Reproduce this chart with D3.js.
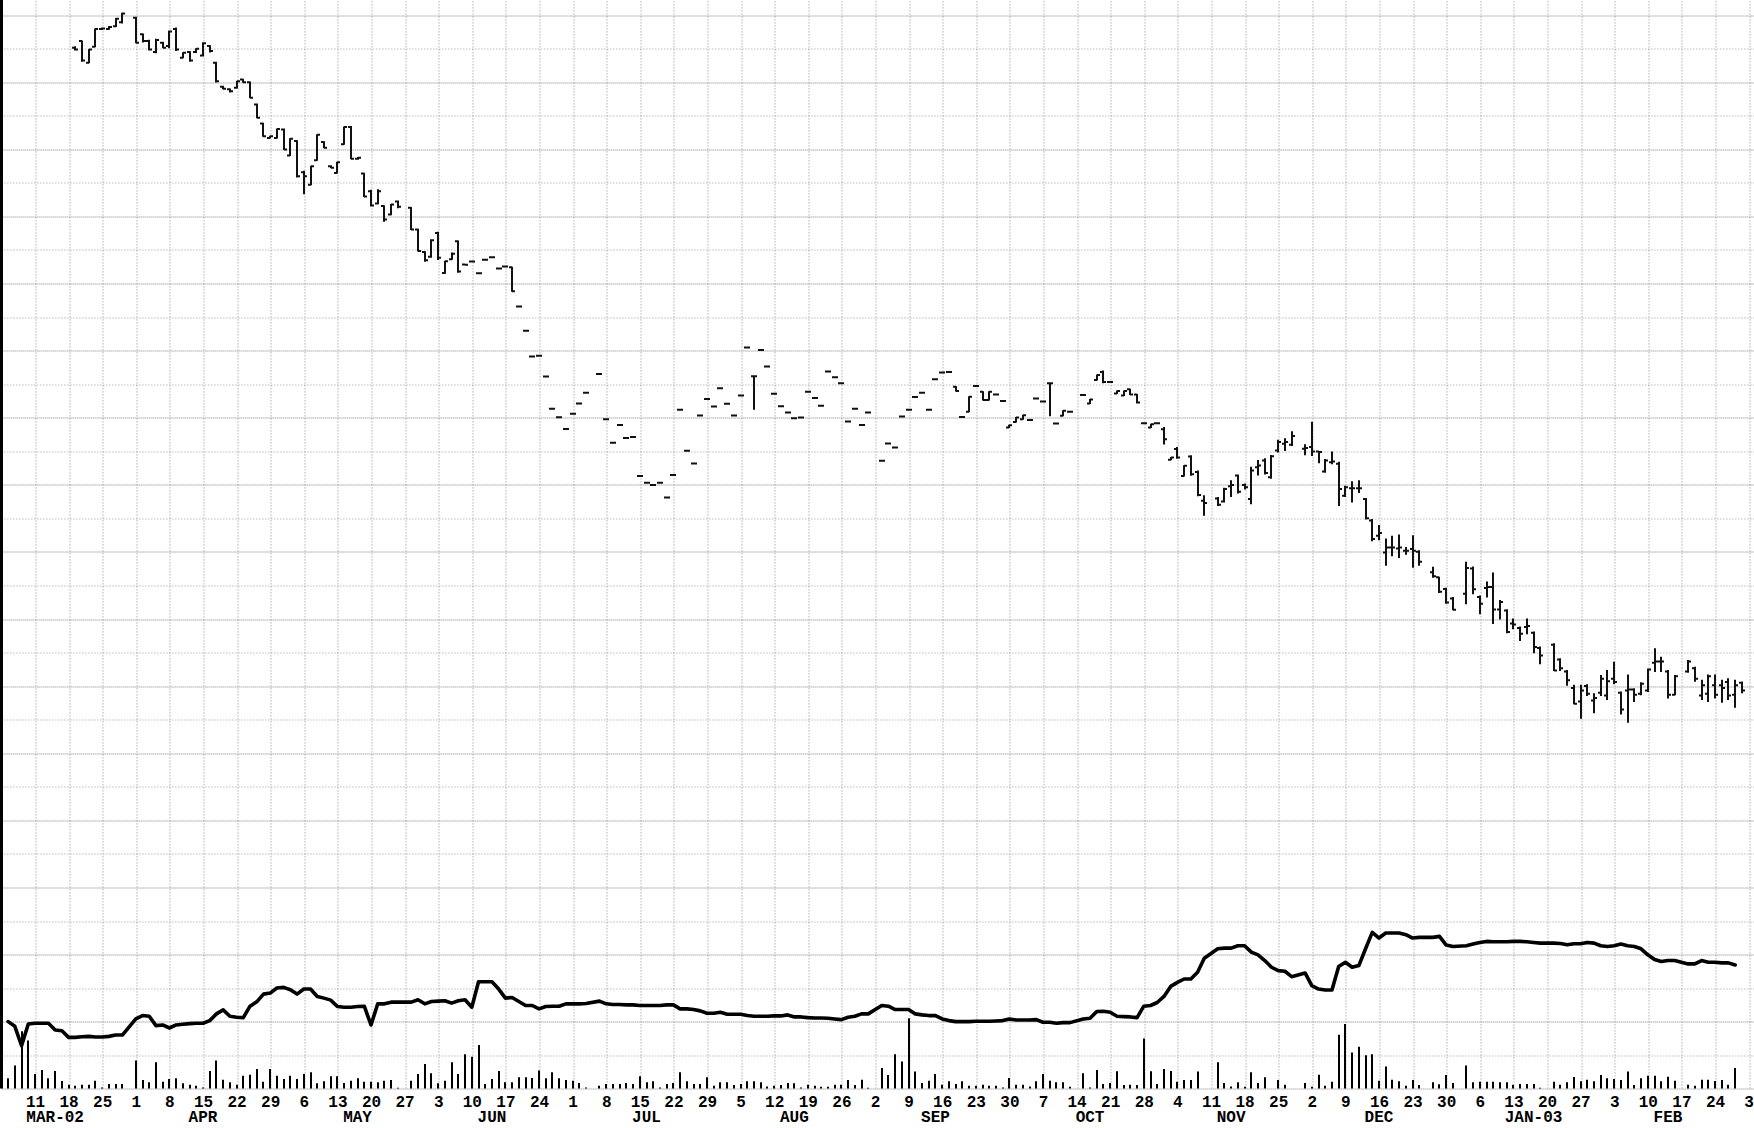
<!DOCTYPE html>
<html><head><meta charset="utf-8">
<script src="https://cdn.jsdelivr.net/npm/d3@7"></script>
<style>html,body{margin:0;padding:0;background:#fff;} svg{display:block;}</style>
</head><body><svg id="chart" width="1754" height="1128"></svg>
<script>
// ---- calendar (weekday axis) ----
const firstWeekday = "2002-03-04";
const lastWeekday  = "2003-03-03";

// ---- price bars, one entry per weekday from priceStart (null = no session) ----
const priceStart = "2002-03-18";
const opens = [
 null,31.01,31.21,30.56,31.04, 31.57,31.57,31.65,31.77,null, 31.90,31.41,31.21,30.88,31.16,
 31.06,31.57,30.71,30.88,30.88, 30.78,31.06,30.56,29.85,29.77, 29.82,30.06,29.98,29.32,28.75,
 28.32,28.32,28.57,27.80,28.23, 27.30,26.93,27.66,28.20,27.48, 27.28,28.13,28.65,27.70,27.26,
 26.73,26.37,26.29,26.04,26.43, null,26.24,25.59,24.92,24.78, 25.49,24.30,24.71,25.24,24.55,
 24.64,24.29,24.69,24.77,24.43, 24.49,24.47,23.30,22.58,21.81, 21.83,21.21,20.25,20.00,19.65,
 20.10,20.41,20.73,null,21.29, 19.94,19.24,19.77,19.38,19.41, 18.25,18.05,17.98,18.05,17.61,
 18.28,20.22,19.00,18.62,20.05, 20.54,20.32,20.86,20.40,20.05, 20.65,22.08,21.22,22.00,21.51,
 20.70,20.33,20.14,19.97,19.99, 20.76,20.57,20.34,21.36,21.19, 21.01,19.87,20.25,19.77,20.14,
 null,18.70,19.22,19.10,20.02, 20.22,20.60,20.73,20.22,21.13, 21.33,21.35,20.91,20.01,20.16,
 20.93,20.76,20.51,20.68,20.48, 19.69,19.86,19.94,19.92,20.56, 20.47,21.01,19.81,20.04,20.16,
 null,20.66,20.41,21.11,21.35, 21.05,20.71,20.65,20.83,20.68, 19.82,19.69,19.82,19.64,18.73,
 19.05,18.25,18.83,18.37,17.51, null,17.58,17.49,17.94,18.26, 17.98,17.56,18.51,18.71,18.21,
 19.01,19.21,19.18,null,19.06, 19.11,18.98,18.38,18.66,18.61, 17.66,17.88,17.88,17.56,16.92,
 16.47,15.97,16.12,16.09,16.02, 16.07,15.99,null,15.38,15.23, 14.88,14.60,null,14.74,15.49,
 14.64,14.91,14.94,14.27,14.24, 13.85,13.72,13.75,13.58,13.12, null,13.22,12.78,12.42,11.93,
 11.53,11.99,11.56,11.79,11.71, 12.21,11.79,11.86,11.89,11.76, 11.86,12.68,12.72,12.42,11.73,
 null,12.42,12.52,11.71,11.76, 12.01,12.01,12.11,11.73,12.09
];
const highs = [
 null,31.04,31.21,30.96,31.57, 31.60,31.64,31.88,32.04,null, 31.92,31.42,31.23,31.26,31.17,
 31.51,31.60,30.86,30.89,30.98, 31.16,31.07,30.58,29.86,29.78, 30.01,30.07,29.99,29.33,28.76,
 28.37,28.59,28.59,28.30,28.24, 27.33,27.48,28.42,28.21,27.49, 27.60,28.65,28.66,27.74,27.27,
 26.76,26.78,26.30,26.34,26.44, null,26.25,25.60,24.93,25.29, 25.51,24.65,24.89,25.25,24.55,
 24.64,24.29,24.69,24.77,24.43, 24.49,24.47,23.30,22.58,21.81, 21.83,21.21,20.25,20.00,19.65,
 20.10,20.41,20.73,null,21.29, 19.94,19.24,19.77,19.38,19.41, 18.25,18.05,17.98,18.05,17.61,
 18.28,20.22,19.00,18.62,20.05, 20.54,20.32,20.86,20.40,20.05, 20.65,22.08,21.23,22.00,21.51,
 20.70,20.33,20.14,19.97,19.99, 20.76,20.57,20.34,21.36,21.19, 21.01,19.87,20.25,19.77,20.14,
 null,18.70,19.22,19.10,20.02, 20.22,20.60,20.73,20.22,21.13, 21.33,21.35,20.91,20.01,20.61,
 20.93,20.76,20.76,20.68,20.48, 19.76,19.99,20.06,19.92,20.56, 20.47,21.03,19.81,20.19,20.16,
 null,20.66,20.53,21.26,21.38, 21.05,20.78,20.78,20.83,20.68, 19.82,19.79,19.82,19.69,18.80,
 19.10,18.55,18.85,18.40,17.66, null,17.61,17.88,18.11,18.28, 18.01,18.51,18.71,18.76,18.86,
 19.31,19.36,19.57,null,19.18, 19.85,18.98,18.74,18.96,18.66, 17.94,18.08,18.11,17.58,16.95,
 16.77,16.37,16.45,16.49,16.12, 16.47,16.02,null,15.53,15.23, 14.90,14.63,null,15.68,15.54,
 14.67,15.09,15.36,14.54,14.26, 13.99,13.75,13.99,13.60,13.15, null,13.25,12.80,12.45,12.01,
 12.01,12.03,11.76,12.30,12.45, 12.70,11.81,12.32,11.91,12.09, 12.50,13.10,12.85,12.45,12.30,
 null,12.75,12.55,12.16,12.32, 12.32,12.16,12.21,12.16,12.11
];
const lows = [
 null,30.94,30.61,30.56,31.04, 31.55,31.56,31.64,31.75,null, 31.16,31.18,30.94,30.86,31.01,
 31.01,30.93,30.71,30.61,30.87, 30.76,30.88,29.99,29.79,29.69, 29.81,29.98,29.52,28.92,28.37,
 28.32,28.32,27.98,27.80,27.16, 26.66,26.93,27.66,28.03,27.43, 27.28,28.13,27.70,27.69,26.58,
 26.29,26.36,25.84,26.03,26.24, null,25.59,24.95,24.65,24.77, 24.70,24.29,24.71,24.32,24.54,
 24.64,24.29,24.69,24.77,24.43, 24.49,23.75,23.30,22.58,21.81, 21.83,21.21,20.25,20.00,19.65,
 20.10,20.41,20.73,null,21.29, 19.94,19.24,19.77,19.38,19.41, 18.25,18.05,17.98,18.05,17.61,
 18.28,20.22,19.00,18.62,20.05, 20.54,20.32,20.86,20.40,20.05, 20.65,22.08,20.24,22.00,21.51,
 20.70,20.33,20.14,19.97,19.99, 20.76,20.57,20.34,21.36,21.19, 21.01,19.87,20.25,19.77,20.14,
 null,18.70,19.22,19.10,20.02, 20.22,20.60,20.73,20.22,21.13, 21.33,21.35,20.78,20.01,20.16,
 20.93,20.51,20.51,20.68,20.48, 19.69,19.86,19.94,19.92,20.56, 20.47,20.04,19.81,20.04,20.16,
 null,20.66,20.41,21.11,21.03, 21.05,20.71,20.65,20.68,20.42, 19.82,19.69,19.82,19.20,18.73,
 18.78,18.25,18.27,17.66,17.08, null,17.37,17.47,17.64,17.74, 17.86,17.42,18.28,18.31,18.18,
 18.96,19.01,19.16,null,18.88, 18.86,18.64,18.36,18.61,17.37, 17.64,17.47,17.76,16.97,16.32,
 16.35,15.59,15.87,15.82,15.92, 15.53,15.59,null,15.23,14.78, 14.46,14.26,null,14.44,14.74,
 14.14,14.64,13.85,13.99,13.58, 13.70,13.35,13.55,12.98,12.65, null,12.45,12.45,12.01,11.46,
 11.03,11.71,11.19,11.71,11.59, 12.06,11.16,10.91,11.53,11.73, 11.83,12.42,12.42,11.63,11.73,
 null,12.40,12.13,11.59,11.53, 11.63,11.51,11.59,11.36,11.79
];
const closes = [
 null,30.96,30.63,30.96,31.57, 31.58,31.63,31.87,32.03,null, 31.16,31.21,30.96,31.24,31.01,
 31.49,30.96,30.86,30.63,30.98, 31.14,30.91,30.01,29.79,29.71, 30.01,29.98,29.52,28.92,28.37,
 28.37,28.59,27.98,28.30,27.18, 27.18,27.48,28.42,28.03,27.43, 27.60,28.65,27.70,27.73,26.58,
 26.31,26.73,25.89,26.34,26.27, null,25.59,24.95,24.68,25.27, 24.75,24.65,24.87,24.34,24.54,
 24.64,24.29,24.69,24.77,24.43, 24.49,23.75,23.30,22.58,21.81, 21.83,21.21,20.25,20.00,19.65,
 20.10,20.41,20.73,null,21.29, 19.94,19.24,19.77,19.38,19.41, 18.25,18.05,17.98,18.05,17.61,
 18.28,20.22,19.00,18.62,20.05, 20.54,20.32,20.86,20.40,20.05, 20.65,22.08,21.22,22.00,21.51,
 20.70,20.33,20.14,19.97,19.99, 20.76,20.57,20.34,21.36,21.19, 21.01,19.87,20.25,19.77,20.14,
 null,18.70,19.22,19.10,20.02, 20.22,20.60,20.73,20.22,21.13, 21.33,21.35,20.78,20.01,20.61,
 20.93,20.51,20.76,20.68,20.48, 19.76,19.99,20.06,19.92,20.56, 20.47,21.01,19.81,20.19,20.16,
 null,20.66,20.53,21.26,21.05, 21.05,20.78,20.78,20.68,20.44, 19.82,19.79,19.82,19.34,18.80,
 18.80,18.55,18.30,17.68,17.44, null,17.39,17.86,17.98,17.78, 17.91,18.41,18.56,18.34,18.84,
 19.26,19.26,19.44,null,19.08, 18.98,18.96,18.71,18.68,17.86, 17.91,17.88,17.88,16.99,16.37,
 16.55,16.12,16.12,16.12,16.02, 16.02,15.69,null,15.26,14.80, 14.48,14.26,null,15.51,14.87,
 14.44,14.94,14.27,14.49,13.60, 13.82,13.55,13.78,13.15,12.90, null,12.45,12.52,12.16,11.46,
 11.86,11.76,11.63,12.21,12.13, 12.11,11.29,11.89,11.73,12.06, 12.48,12.72,12.72,11.73,12.28,
 null,12.72,12.21,12.01,12.28, 11.73,11.93,11.71,12.01,11.86
];

// ---- volume bars and open-interest line, one entry per weekday from volumeStart ----
const volumeStart = "2002-03-04";
const volume = [
 null,0.30,0.68,1.70,1.43, 0.43,0.55,0.30,0.52,0.22, 0.11,0.08,0.11,0.11,0.23, 0.03,0.13,0.13,0.13,null,
 0.83,0.25,0.18,0.78,0.20, 0.28,0.30,0.15,0.11,0.08, 0.03,0.52,0.83,0.26,0.18, 0.11,0.38,0.41,0.58,0.20,
 0.58,0.38,0.28,0.38,0.28, 0.43,0.48,0.15,0.21,0.36, 0.36,0.16,0.23,0.30,0.20, 0.20,0.18,0.23,0.25,0.02,
 null,0.23,0.43,0.73,0.45, 0.15,0.23,0.78,0.43,1.02, 0.94,1.29,0.13,0.28,0.52, 0.18,0.18,0.33,0.33,0.31,
 0.53,0.30,0.48,0.30,0.25, 0.23,0.16,0.03,null,0.08, 0.13,0.13,0.13,0.16,0.13, 0.36,0.18,0.21,0.03,0.13,
 0.16,0.48,0.21,0.13,0.13, 0.33,0.08,0.18,0.18,0.10, 0.13,0.21,0.21,0.18,0.06, 0.08,0.10,0.16,0.15,0.03,
 0.11,0.08,0.05,0.05,0.11, 0.11,0.25,0.10,0.26,0.02, null,0.61,0.40,1.02,0.80, 2.09,0.50,0.16,0.23,0.43,
 0.11,0.21,0.13,0.21,0.08, 0.08,0.11,0.08,0.08,0.03, 0.31,0.11,0.11,0.06,0.21, 0.43,0.23,0.18,0.18,0.05,
 null,0.45,0.03,0.55,0.13, 0.16,0.51,0.10,0.11,0.10, 1.49,0.51,0.13,0.58,0.52, 0.20,0.25,0.25,0.50,0,
 null,0.78,0.16,0.06,0.18, 0.05,0.48,0.16,0.33,0, 0.25,0.11,0,null,0.16, 0.05,0.41,0.08,0.20,1.60,
 1.92,1.07,1.24,0.99,1.02, 0.23,0.65,0.26,0.21,0.08, 0.25,0.10,null,0.18,0.12, 0.40,0.16,null,0.68,0.18,
 0.20,0.20,0.20,0.18,0.18, 0.11,0.13,0.13,0.13,0.02, null,0.20,0.11,0.18,0.34, 0.21,0.26,0.21,0.40,0.30,
 0.28,0.25,0.50,0.10,0.30, 0.38,0.38,0.21,0.35,0.23, null,0.11,0.08,0.26,0.26, 0.22,0.25,0.11,0.61,null
];
const openInterest = [
 null,1.99,1.85,1.27,1.92, 1.94,1.94,1.94,1.74,1.72, 1.52,1.52,1.54,1.55,1.53, 1.53,1.55,1.59,1.59,null,
 2.07,2.17,2.15,1.87,1.89, 1.80,1.89,1.91,1.93,1.94, 1.94,2.02,2.22,2.34,2.15, 2.12,2.11,2.45,2.58,2.81,
 2.84,2.99,3.01,2.94,2.81, 2.96,2.96,2.74,2.69,2.63, 2.44,2.42,2.42,2.44,2.45, 1.89,2.52,2.52,2.57,2.57,
 null,2.57,2.64,2.52,2.59, 2.60,2.61,2.54,2.61,2.64, 2.42,3.18,3.18,3.18,2.96, 2.69,2.71,2.59,2.47,2.47,
 2.37,2.44,2.45,2.45,2.52, 2.52,2.52,2.53,null,2.60, 2.52,2.50,2.50,2.49,2.49, 2.47,2.47,2.47,2.47,2.49,
 2.49,2.37,2.37,2.35,2.31, 2.24,2.24,2.27,2.21,2.21, 2.21,2.17,2.15,2.15,2.15, 2.16,2.16,2.19,2.13,2.13,
 2.11,2.10,2.10,2.09,2.07, 2.05,2.12,2.15,2.22,2.22, null,2.47,2.45,2.35,2.35, 2.35,2.22,2.19,2.17,2.17,
 2.07,2.02,1.99,1.99,1.99, 2.00,2.00,2.00,2.01,2.02, 2.07,2.04,2.04,2.04,2.05, 1.97,1.97,1.94,1.96,1.96,
 null,2.07,2.09,2.29,2.30, 2.27,2.15,2.14,2.13,2.11, 2.45,2.47,2.56,2.74,3.04, 3.16,3.26,3.26,3.46,3.88,
 null,4.16,4.18,4.18,4.25, 4.25,4.06,3.98,3.81,3.61, 3.51,3.49,3.33,null,3.44, 3.06,2.96,2.93,2.93,3.63,
 3.76,3.61,3.66,4.16,4.65, 4.48,4.63,4.63,4.63,4.58, 4.48,4.50,null,4.50,4.53, 4.27,4.23,null,4.25,4.30,
 4.35,4.38,4.37,4.37,4.37, 4.38,4.38,4.37,4.35,4.33, null,4.33,4.32,4.28,4.31, 4.31,4.35,4.33,4.25,4.23,
 4.25,4.30,4.25,4.23,4.16, 3.98,3.84,3.78,3.81,3.81, null,3.71,3.71,3.81,3.76, 3.76,3.74,3.74,3.68,null
];

// ---- axis labels ----
const monthLabels     = ["MAR-02","APR","MAY","JUN","JUL","AUG","SEP","OCT","NOV","DEC","JAN-03","FEB"];
const monthLabelDates = ["2002-03-14","2002-04-15","2002-05-16","2002-06-13","2002-07-16","2002-08-15",
                         "2002-09-13","2002-10-16","2002-11-14","2002-12-16","2003-01-16","2003-02-13"];
const gridStep = 1;          // one horizontal grid line per price unit
const priceDomain = [0, 32]; // grid units shared by price, volume and open interest panes

// ---------------------------------------------------------------
const W = 1754, H = 1128;
const parse = d3.utcParse("%Y-%m-%d");
const days = d3.utcDay.range(parse(firstWeekday), d3.utcDay.offset(parse(lastWeekday), 1))
  .filter(d => d.getUTCDay() !== 0 && d.getUTCDay() !== 6);
const idxOf = s => days.findIndex(d => +d === +parse(s));

const x = d3.scaleLinear().domain([0, days.length - 1]).range([1.4, 1748.6]);
const y = d3.scaleLinear().domain(priceDomain).range([1088.4, 14.5]);
const yv = d3.scaleLinear().domain(priceDomain).range([1088.4, 14.5]);
const px = i => Math.round(x(i));

const svg = d3.select("#chart");
svg.append("rect").attr("width", W).attr("height", H).attr("fill", "#fff");

// grid
const yGrid = svg.append("g").attr("transform", `translate(${x(0)},0)`)
  .call(d3.axisLeft(y).tickValues(d3.range(priceDomain[0], priceDomain[1] + gridStep, gridStep))
        .tickSize(-(W - x(0))).tickFormat(""));
yGrid.select(".domain").remove();
yGrid.selectAll("line")
  .attr("stroke", d => (d % 2 === 0 ? "#808080" : "#9a9a9a"))
  .attr("stroke-dasharray", d => (d % 2 === 0 ? "1,1" : "1,2"))
  .attr("transform", d => `translate(0,${Math.round(y(d)) - y(d) + 0.5})`);

const mondays = days.map((d, i) => i).filter(i => days[i].getUTCDay() === 1);
const xGrid = svg.append("g").attr("transform", `translate(0,${y(priceDomain[0])})`)
  .call(d3.axisBottom(x).tickValues(mondays).tickSize(-(y(priceDomain[0]) - 0)).tickFormat(""));
xGrid.select(".domain").remove();
xGrid.selectAll("line").attr("stroke", "#8c8c8c").attr("stroke-dasharray", "1,2")
  .attr("transform", d => `translate(${Math.round(x(d)) - x(d) + 0.5},0)`);

// left frame line
svg.append("line").attr("x1", 1.5).attr("x2", 1.5).attr("y1", 0).attr("y2", y(priceDomain[0]))
  .attr("stroke", "#000").attr("stroke-width", 3);

// price bars
const p0 = idxOf(priceStart);
const bars = [];
opens.forEach((o, k) => {
  if (o == null) return;
  bars.push({ i: p0 + k, o, h: highs[k], l: lows[k], c: closes[k] });
});
svg.append("g").selectAll("path").data(bars).join("path")
  .attr("fill", "none").attr("stroke", "#111").attr("stroke-width", 2)
  .attr("d", d => {
    const cx = px(d.i);
    return `M${cx},${y(d.h) - 0.5}V${y(d.l) + 0.5}M${cx - 3},${y(d.o)}H${cx}M${cx},${y(d.c)}H${cx + 3}`;
  });

// volume bars
const v0 = idxOf(volumeStart);
const vols = volume.map((v, k) => ({ i: v0 + k, v })).filter(d => d.v != null && d.v > 0);
svg.append("g").selectAll("line").data(vols).join("line")
  .attr("x1", d => px(d.i)).attr("x2", d => px(d.i))
  .attr("y1", yv(0)).attr("y2", d => yv(d.v))
  .attr("stroke", "#000").attr("stroke-width", 2);

// open interest line
const oi = openInterest.map((v, k) => ({ i: v0 + k, v })).filter(d => d.v != null);
svg.append("path").datum(oi)
  .attr("fill", "none").attr("stroke", "#000").attr("stroke-width", 3.6)
  .attr("stroke-linejoin", "round").attr("stroke-linecap", "round")
  .attr("d", d3.line().x(d => x(d.i)).y(d => yv(d.v)));

// day-of-month labels
const ax = svg.append("g").attr("transform", `translate(0,1101)`)
  .call(d3.axisBottom(x).tickValues(mondays.filter(i => i > 0)).tickSize(0)
        .tickFormat(i => days[i].getUTCDate()));
ax.select(".domain").remove();
ax.selectAll("text").attr("dy", "0.35em").attr("y", 0)
  .attr("font-family", "'Liberation Mono', 'Courier New', monospace")
  .attr("font-weight", "bold").attr("font-size", 16).attr("fill", "#000");

// month labels
svg.append("g").selectAll("text").data(monthLabels).join("text")
  .attr("x", (d, k) => x(idxOf(monthLabelDates[k])))
  .attr("y", 1116).attr("dy", "0.35em").attr("text-anchor", "middle")
  .attr("font-family", "'Liberation Mono', 'Courier New', monospace")
  .attr("font-weight", "bold").attr("font-size", 16).attr("fill", "#000")
  .text(d => d);
</script></body></html>
